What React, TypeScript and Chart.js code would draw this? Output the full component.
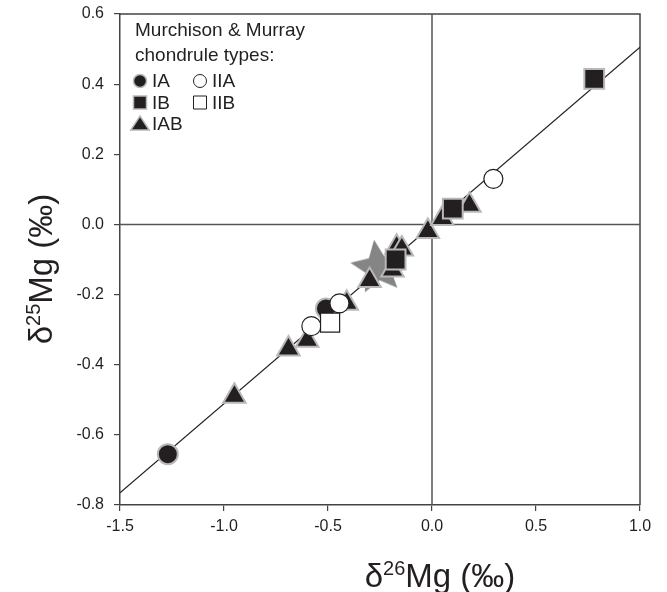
import React, { useEffect, useRef } from 'react';
import { Chart, registerables } from 'chart.js';

Chart.register(...registerables);

// ---- data ----
const xTickValues = [-1.5, -1.0, -0.5, 0.0, 0.5, 1.0];
const yTickValues = [-0.8, -0.6, -0.4, -0.2, 0.0, 0.2, 0.4, 0.6];

const iaX = [-1.27, -0.51];
const iaY = [-0.655, -0.24];

const iiaX = [-0.58, -0.445, 0.295];
const iiaY = [-0.29, -0.225, 0.13];

const ibX = [-0.175, 0.1, 0.78];
const ibY = [-0.1, 0.045, 0.415];

const iibX = [-0.49];
const iibY = [-0.28];

const iabX = [-0.95, -0.69, -0.6, -0.41, -0.3, -0.19, -0.17, -0.145, -0.02, 0.05, 0.18];
const iabY = [-0.49, -0.355, -0.33, -0.225, -0.16, -0.13, -0.065, -0.07, -0.02, 0.017, 0.055];

const starX = [-0.26];
const starY = [-0.12];

const refLineX = [-1.5, 1.0];
const refLineY = [-0.765, 0.505];

const legendTitle = ['Murchison & Murray', 'chondrule types:'];
const legendItems = [
  { label: 'IA', shape: 'circle', filled: true, col: 0, row: 0 },
  { label: 'IIA', shape: 'circle', filled: false, col: 1, row: 0 },
  { label: 'IB', shape: 'square', filled: true, col: 0, row: 1 },
  { label: 'IIB', shape: 'square', filled: false, col: 1, row: 1 },
  { label: 'IAB', shape: 'triangle', filled: true, col: 0, row: 2 },
];

const DARK = '#231f20';
const HALO = '#b8b8b8';
const FONT = '"Liberation Sans", Arial, Helvetica, sans-serif';

const pts = (xs: number[], ys: number[]) => xs.map((x, i) => ({ x, y: ys[i] }));

function makeStar(): HTMLCanvasElement {
  const c = document.createElement('canvas');
  c.width = 64;
  c.height = 64;
  const g = c.getContext('2d')!;
  const R = 28;
  const r = 13;
  const rot = -8 * Math.PI / 180;
  g.beginPath();
  for (let i = 0; i < 10; i++) {
    const rad = i % 2 === 0 ? R : r;
    const a = -Math.PI / 2 + rot + (i * Math.PI) / 5;
    const px = 32 + rad * Math.cos(a);
    const py = 33 + rad * Math.sin(a);
    if (i === 0) g.moveTo(px, py);
    else g.lineTo(px, py);
  }
  g.closePath();
  g.fillStyle = '#858585';
  g.fill();
  return c;
}

function drawShape(ctx: CanvasRenderingContext2D, shape: string, filled: boolean, x: number, y: number, s: number) {
  ctx.save();
  ctx.beginPath();
  if (shape === 'circle') {
    ctx.arc(x, y, s, 0, Math.PI * 2);
  } else if (shape === 'square') {
    ctx.rect(x - s, y - s, 2 * s, 2 * s);
  } else {
    const w = s * 1.15;
    ctx.moveTo(x, y - s);
    ctx.lineTo(x + w, y + s * 0.75);
    ctx.lineTo(x - w, y + s * 0.75);
    ctx.closePath();
  }
  if (filled) {
    ctx.fillStyle = DARK;
    ctx.fill();
    ctx.lineWidth = 1.5;
    ctx.strokeStyle = HALO;
    ctx.stroke();
  } else {
    ctx.fillStyle = '#fff';
    ctx.fill();
    ctx.lineWidth = 1;
    ctx.strokeStyle = DARK;
    ctx.stroke();
  }
  ctx.restore();
}

function drawSupLabel(ctx: CanvasRenderingContext2D, pre: string, sup: string, post: string, size: number) {
  const main = `${size}px ${FONT}`;
  const small = `${Math.round(size * 0.62)}px ${FONT}`;
  ctx.font = main;
  const w1 = ctx.measureText(pre).width;
  const w3 = ctx.measureText(post).width;
  ctx.font = small;
  const w2 = ctx.measureText(sup).width;
  const total = w1 + w2 + w3;
  let x = -total / 2;
  const base = size * 0.36;
  ctx.textBaseline = 'alphabetic';
  ctx.textAlign = 'left';
  ctx.font = main;
  ctx.fillText(pre, x, base);
  x += w1;
  ctx.font = small;
  ctx.fillText(sup, x, base - size * 0.36);
  x += w2;
  ctx.font = main;
  ctx.fillText(post, x, base);
}

const framePlugin = {
  id: 'frameAndLegend',
  beforeDatasetsDraw(chart: any) {
    const { ctx, chartArea } = chart;
    ctx.save();
    ctx.strokeStyle = '#444';
    ctx.lineWidth = 1.5;
    ctx.beginPath();
    ctx.moveTo(chartArea.left, chartArea.top);
    ctx.lineTo(chartArea.right, chartArea.top);
    ctx.lineTo(chartArea.right, chartArea.bottom);
    ctx.stroke();
    ctx.restore();
  },
  afterDraw(chart: any) {
    const { ctx, chartArea } = chart;
    ctx.save();
    ctx.fillStyle = DARK;
    // legend
    ctx.font = `19px ${FONT}`;
    ctx.textBaseline = 'middle';
    ctx.textAlign = 'left';
    const lx = chartArea.left + 15;
    ctx.fillText(legendTitle[0], lx, chartArea.top + 17);
    ctx.fillText(legendTitle[1], lx, chartArea.top + 42);
    legendItems.forEach((it) => {
      const mx = chartArea.left + 20 + it.col * 60;
      const my = chartArea.top + 67 + it.row * 21.5;
      const s = it.shape === 'circle' ? 6.5 : it.shape === 'square' ? 6.5 : 8;
      drawShape(ctx, it.shape, it.filled, mx, my, s);
      ctx.fillStyle = DARK;
      ctx.font = `19px ${FONT}`;
      ctx.fillText(it.label, mx + 12, my + 1);
    });
    // axis titles
    ctx.fillStyle = DARK;
    ctx.save();
    ctx.translate(440, 575);
    drawSupLabel(ctx, 'δ', '26', 'Mg (‰)', 33);
    ctx.restore();
    ctx.save();
    ctx.translate(40, 269);
    ctx.rotate(-Math.PI / 2);
    drawSupLabel(ctx, 'δ', '25', 'Mg (‰)', 33);
    ctx.restore();
    ctx.restore();
  },
};

export default function App() {
  const ref = useRef<HTMLCanvasElement | null>(null);

  useEffect(() => {
    if (!ref.current) return;
    const star = makeStar();
    const filled = { backgroundColor: DARK, borderColor: HALO, borderWidth: 2 };
    const open = { backgroundColor: '#ffffff', borderColor: DARK, borderWidth: 1.2 };
    const chart = new Chart(ref.current, {
      type: 'scatter',
      data: {
        datasets: [
          { label: 'IIB', data: pts(iibX, iibY), pointStyle: 'rect', pointRadius: 13.5, ...open, order: 1 },
          { label: 'IIA', data: pts(iiaX, iiaY), pointStyle: 'circle', pointRadius: 9.5, ...open, order: 2 },
          { label: 'IA', data: pts(iaX, iaY), pointStyle: 'circle', pointRadius: 10, ...filled, order: 3 },
          { label: 'IB', data: pts(ibX, ibY), pointStyle: 'rect', pointRadius: 14, ...filled, order: 4 },
          { label: 'IAB', data: pts(iabX, iabY), pointStyle: 'triangle', pointRadius: 13, ...filled, order: 5 },
          { label: 'star', data: pts(starX, starY), pointStyle: star as any, pointRadius: 28, order: 6 },
          {
            type: 'line',
            label: 'ref',
            data: pts(refLineX, refLineY),
            borderColor: DARK,
            borderWidth: 1.2,
            pointRadius: 0,
            showLine: true,
            order: 7,
          } as any,
          {
            type: 'line',
            label: 'x0',
            data: [{ x: 0, y: yTickValues[0] }, { x: 0, y: yTickValues[yTickValues.length - 1] }],
            borderColor: '#555',
            borderWidth: 1.5,
            pointRadius: 0,
            showLine: true,
            order: 8,
          } as any,
          {
            type: 'line',
            label: 'y0',
            data: [{ x: xTickValues[0], y: 0 }, { x: xTickValues[xTickValues.length - 1], y: 0 }],
            borderColor: '#555',
            borderWidth: 1.5,
            pointRadius: 0,
            showLine: true,
            order: 9,
          } as any,
        ],
      },
      options: {
        animation: false,
        responsive: true,
        maintainAspectRatio: false,
        layout: { autoPadding: false, padding: { top: 14, right: 27, left: 0, bottom: 0 } },
        plugins: {
          legend: { display: false },
          tooltip: { enabled: false },
        },
        scales: {
          x: {
            type: 'linear',
            min: xTickValues[0],
            max: xTickValues[xTickValues.length - 1],
            afterFit: (s: any) => { s.height = 87; s.paddingLeft = 0; s.paddingRight = 0; },
            afterBuildTicks: (s: any) => { s.ticks = xTickValues.map((v) => ({ value: v })); },
            ticks: {
              callback: (v: any) => Number(v).toFixed(1),
              font: { family: FONT, size: 16 },
              color: DARK,
              padding: 6,
            },
            grid: { drawOnChartArea: false, drawTicks: true, tickLength: 6, color: '#444', lineWidth: 1.2 },
            border: { display: true, color: '#444', width: 1.5 },
          },
          y: {
            type: 'linear',
            min: yTickValues[0],
            max: yTickValues[yTickValues.length - 1],
            afterFit: (s: any) => { s.width = 120; s.paddingTop = 0; s.paddingBottom = 0; },
            afterBuildTicks: (s: any) => { s.ticks = yTickValues.map((v) => ({ value: v })); },
            ticks: {
              callback: (v: any) => Number(v).toFixed(1),
              font: { family: FONT, size: 16 },
              color: DARK,
              padding: 10,
            },
            grid: { drawOnChartArea: false, drawTicks: true, tickLength: 6, color: '#444', lineWidth: 1.2 },
            border: { display: true, color: '#444', width: 1.5 },
          },
        },
      },
      plugins: [framePlugin],
    } as any);
    return () => chart.destroy();
  }, []);

  return (
    <div style={{ position: 'fixed', left: 0, top: 0, width: 667, height: 592, background: '#fff' }}>
      <canvas ref={ref} />
    </div>
  );
}
